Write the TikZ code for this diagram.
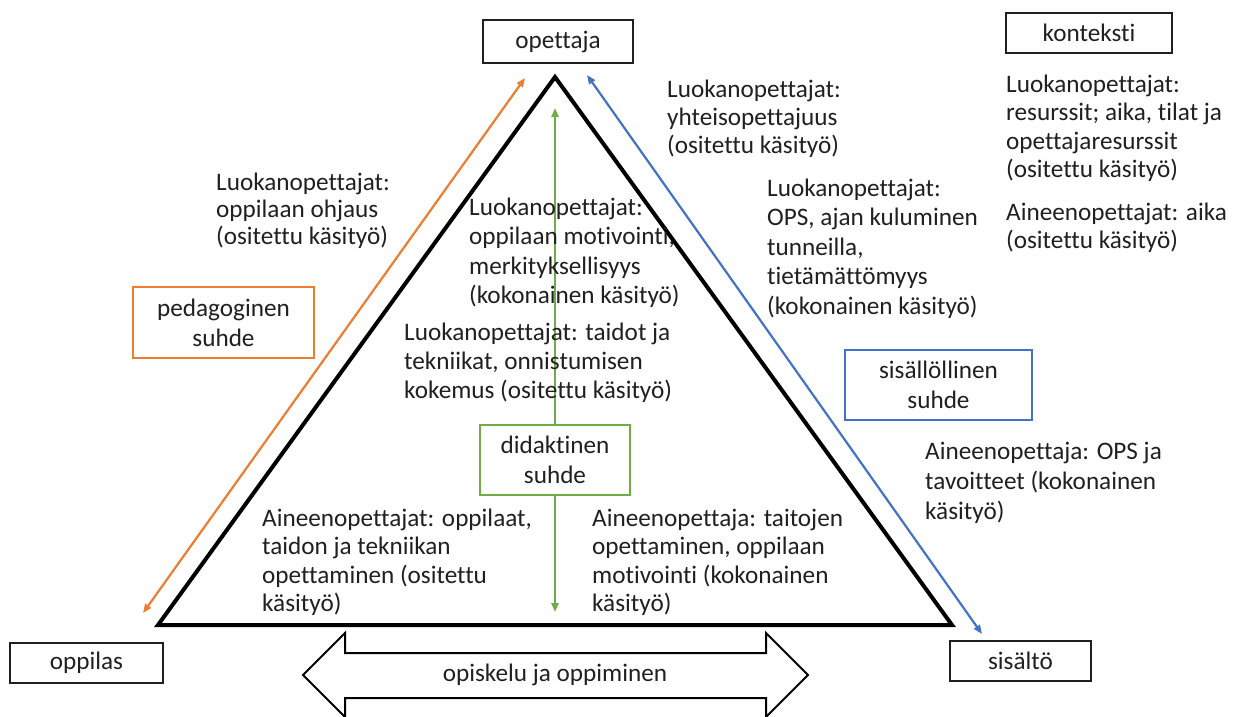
\documentclass[tikz,border=0pt]{standalone}
\usepackage{fontspec}
\setmainfont{Carlito}[RawFeature={-liga;-clig;-calt}]
\usetikzlibrary{arrows.meta}
\definecolor{ink}{HTML}{202020}
\definecolor{pedorange}{HTML}{ED7D31}
\definecolor{contblue}{HTML}{4472C4}
\definecolor{didgreen}{HTML}{70AD47}

\begin{document}
\begin{tikzpicture}[x=1pt,y=-1pt,
  every node/.style={text=ink, font=\fontsize{25.2}{30}\selectfont},
  tag/.style={draw=ink, line width=1.4pt, fill=white, inner sep=0pt, align=center},
  % base anchor of a multi-line note sits on its last line
  note/.style={anchor=base west, inner sep=0pt, align=left, font=\fontsize{25.2}{#1}\selectfont},
  rel/.style={line width=2.2pt, {Triangle[length=9pt,width=7pt]}-{Triangle[length=9pt,width=7pt]}}
]
\useasboundingbox (0,0) rectangle (1235,716);
\fill[white] (0,0) rectangle (1235,716);

% corners of the triangle
\coordinate (T) at (555,77);
\coordinate (L) at (158,625);
\coordinate (R) at (952,625);
\draw[line width=4pt, line join=miter] (L) -- (T) -- (R) -- cycle;

% end points of the relation arrows
\coordinate (oA) at (143,613);
\coordinate (oB) at (525,78);
\coordinate (bA) at (587,75);
\coordinate (bB) at (982,634);
\coordinate (gA) at (555,108);
\coordinate (gB) at (555,612);

\draw[rel, draw=pedorange, fill=pedorange] (oA) -- (oB);
\draw[rel, draw=contblue, fill=contblue] (bA) -- (bB);
\draw[rel, draw=didgreen, fill=didgreen] (gA) -- (gB);

% corner boxes
\node[tag, minimum width=150pt, minimum height=43pt] (teacher) at (558,41.5) {opettaja};
\node[tag, minimum width=166pt, minimum height=40pt] (context) at (1089,33) {konteksti};
\node[tag, minimum width=153pt, minimum height=40pt] (pupil) at (86.5,663) {oppilas};
\node[tag, minimum width=141pt, minimum height=40pt] (content) at (1020.5,661) {sisältö};

% relation boxes
\node[tag, draw=pedorange, minimum width=181pt, minimum height=71pt] (ped) at (223.5,322.5) {pedagoginen\\suhde};
\node[tag, draw=contblue, minimum width=187pt, minimum height=70pt] (cont) at (938.5,385) {sisällöllinen\\suhde};
\node[tag, draw=didgreen, minimum width=150pt, minimum height=70pt] (did) at (555,460) {didaktinen\\suhde};

% study and learning double arrow
\draw[line width=2pt, fill=white, line join=miter]
  (303,675) -- (345,633) -- (345,653) -- (766,653) -- (766,633) -- (808,675)
  -- (766,717) -- (766,698) -- (345,698) -- (345,717) -- cycle;
\node[inner sep=0pt] (study) at (555,675) {opiskelu ja oppiminen};

% annotations
\node[note=27] (n1) at (216,244) {Luokanopettajat:\\oppilaan ohjaus\\(ositettu käsityö)};
\node[note=28] (n2) at (667,153) {Luokanopettajat:\\yhteisopettajuus\\(ositettu käsityö)};
\node[note=29.5] (n3) at (767,314) {Luokanopettajat:\\OPS, ajan kuluminen\\tunneilla,\\tietämättömyys\\(kokonainen käsityö)};
\node[note=28.5] (n4) at (1006,177.5) {Luokanopettajat:\\resurssit; aika, tilat ja\\opettajaresurssit\\(ositettu käsityö)};
\node[note=28.5] (n5) at (1006,248.5) {Aineenopettajat: aika\\(ositettu käsityö)};
\node[note=29.5] (n6) at (469,303.5) {Luokanopettajat:\\oppilaan motivointi,\\merkityksellisyys\\(kokonainen käsityö)};
\node[note=29] (n7) at (404,398) {Luokanopettajat: taidot ja\\tekniikat, onnistumisen\\kokemus (ositettu käsityö)};
\node[note=28.5] (n8) at (262,611.5) {Aineenopettajat: oppilaat,\\taidon ja tekniikan\\opettaminen (ositettu\\käsityö)};
\node[note=28.5] (n9) at (592,611.5) {Aineenopettaja: taitojen\\opettaminen, oppilaan\\motivointi (kokonainen\\käsityö)};
\node[note=30] (n10) at (925,519) {Aineenopettaja: OPS ja\\tavoitteet (kokonainen\\käsityö)};
\end{tikzpicture}
\end{document}
